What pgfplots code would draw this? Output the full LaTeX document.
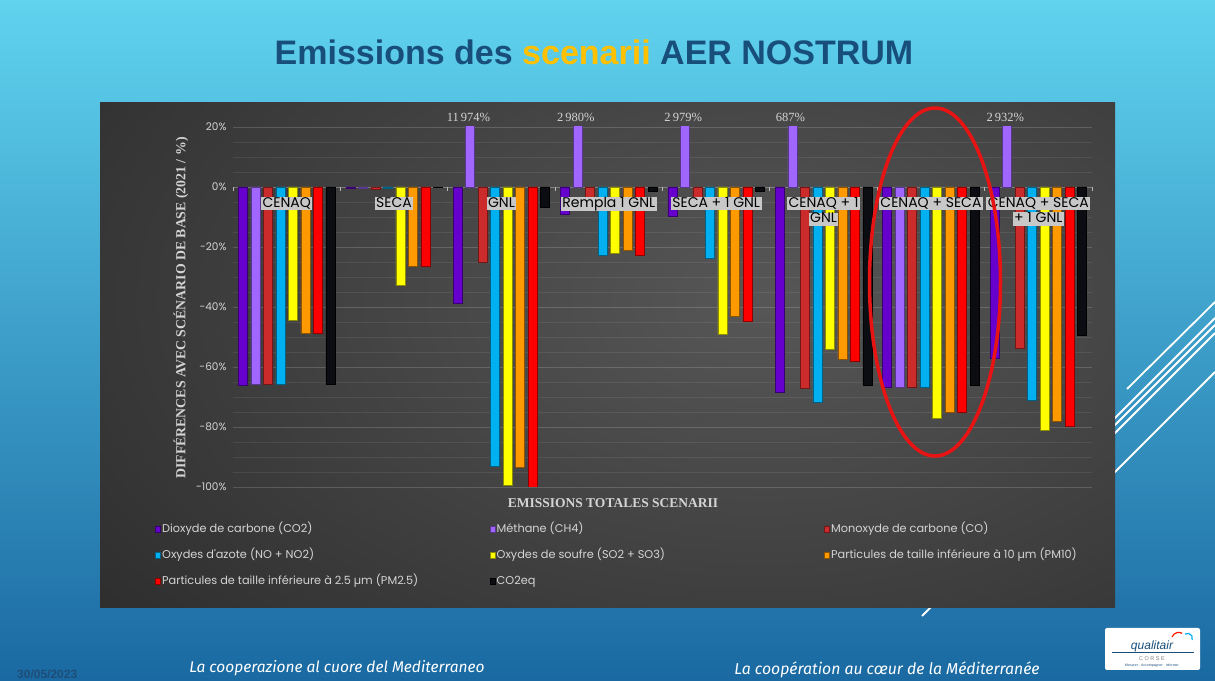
\documentclass[border=0pt]{standalone}
\usepackage{pgfplots}
\usepackage{pgfplotstable}
\pgfplotsset{compat=1.18}
\usepackage{fontspec}
\setmainfont{Liberation Sans}
\newfontfamily\gothic{Poppins}
\newfontfamily\tnr{Liberation Serif}
\newfontfamily\fira{Fira Sans}
\definecolor{cco2}{HTML}{6600CC}
\definecolor{cch4}{HTML}{A066FF}
\definecolor{cco}{HTML}{CC2B2B}
\definecolor{cnox}{HTML}{00B0F0}
\definecolor{csox}{HTML}{FFFF00}
\definecolor{cpm10}{HTML}{FF9900}
\definecolor{cpm25}{HTML}{FF0000}
\definecolor{cco2eq}{HTML}{0B0D12}
\definecolor{bgtop}{HTML}{60D3EF}
\definecolor{bgbot}{HTML}{1A69A2}
\definecolor{navy}{HTML}{184E7A}
\definecolor{gold}{HTML}{FFC000}
\definecolor{lbl}{HTML}{C8C8C8}
\definecolor{txt}{HTML}{D4D4D4}
\definecolor{redell}{HTML}{E81414}
\definecolor{datec}{HTML}{1D4E78}

\pgfplotstableread{
g co2 ch4 co nox sox pm10 pm25 co2eq
0 -66.0 -65.8 -65.8 -65.6 -44.3 -48.8 -48.8 -65.8
1 -0.4 -0.5 -0.8 -0.5 -32.8 -26.3 -26.3 -0.2
2 -38.6 11974 -25.0 -93.0 -99.3 -93.3 -100.0 -6.6
3 -9.1 2980 -4.0 -22.8 -22.1 -21.0 -22.6 -1.5
4 -9.9 2979 -4.0 -23.6 -49.2 -43.0 -44.7 -1.5
5 -68.3 687 -67.2 -71.6 -54.1 -57.4 -58.0 -66.0
6 -66.6 -66.6 -66.6 -66.6 -77.2 -75.2 -75.2 -66.1
7 -57.2 2932 -53.9 -71.0 -81.1 -78.2 -79.9 -49.3
}\datatable

\newcommand\cb[1]{{\setlength{\fboxsep}{0pt}\colorbox{lbl}{\hspace{1.5bp}\rule[-3bp]{0pt}{12.5bp}#1\hspace{1.5bp}}}}
\newcommand\lgt[1]{\makebox[326bp][l]{#1}}

\begin{document}
\begin{tikzpicture}[x=1bp,y=1bp]
\useasboundingbox (0,0) rectangle (1215,681);
\clip (0,0) rectangle (1215,681);
% slide background
\shade[top color=bgtop, bottom color=bgbot] (0,0) rectangle (1215,681);
% decorative lines
\begin{scope}[white, line width=1.8bp]
\draw (1215,379) -- (1127,292);
\draw (1215,363) -- (1100,248);
\draw (1215,356) -- (1100,241);
\draw (1215,348) -- (1100,233);
\draw (1215,309) -- (1100,194);
\draw (1010,153) -- (922,65);
\end{scope}
% chart panel
\begin{scope}
\clip (100,73) rectangle (1115,578);
\fill[black!85] (100,73) rectangle (1115,578);
\shade[inner color=black!66, outer color=black!85] (-240,-220) rectangle (1760,980);
\end{scope}
% title
\node[font=\bfseries\fontsize{34bp}{40bp}\selectfont, text=navy] at (594,629)
  {Emissions des \textcolor{gold}{scenarii} AER NOSTRUM};

\begin{axis}[
  at={(233bp,194bp)}, anchor=south west,
  scale only axis, width=859bp, height=360bp,
  xmin=-0.5, xmax=7.5, ymin=-100, ymax=20,
  restrict y to domain*=-120:40,
  clip mode=individual,
  axis line style={draw=none},
  xtick=\empty,
  ytick={-100,-80,...,20},
  minor y tick num=3,
  ymajorgrids, yminorgrids,
  major grid style={draw=white, opacity=0.16, line width=0.8bp},
  minor grid style={draw=white, opacity=0.08, line width=0.8bp},
  ytick style={draw=none},
  /pgf/number format/assume math mode=true,
  yticklabel={\pgfmathprintnumber{\tick}\%},
  yticklabel style={font=\gothic\fontsize{10.5bp}{12bp}\selectfont, text=txt, xshift=-3bp},
  extra y ticks={0}, extra y tick labels={},
  extra y tick style={grid style={draw=white!72!black, opacity=1, line width=1.3bp}},
  ybar, bar width=9bp,
  legend columns=3,
  legend style={at={(-0.0908,-0.1034)}, anchor=north west, draw=none, fill=none,
    inner sep=0pt, row sep=15.5bp, text=txt,
    font=\gothic\fontsize{11.3bp}{12bp}\selectfont,
    nodes={inner xsep=1.5bp, inner ysep=0pt, text height=8bp, text depth=2.5bp},
    /tikz/every even column/.append style={column sep=0pt}},
  legend image code/.code={\fill[#1] (0bp,-3bp) rectangle (5bp,3bp);},
]
\addplot[fill=cco2, draw=cco2!55!black, line width=0.5bp, bar shift=-43.75bp] table[x=g,y=co2]{\datatable};
\addplot[fill=cch4, draw=cch4!55!black, line width=0.5bp, bar shift=-31.25bp] table[x=g,y=ch4]{\datatable};
\addplot[fill=cco, draw=cco!55!black, line width=0.5bp, bar shift=-18.75bp] table[x=g,y=co]{\datatable};
\addplot[fill=cnox, draw=cnox!55!black, line width=0.5bp, bar shift=-6.25bp] table[x=g,y=nox]{\datatable};
\addplot[fill=csox, draw=csox!55!black, line width=0.5bp, bar shift=6.25bp] table[x=g,y=sox]{\datatable};
\addplot[fill=cpm10, draw=cpm10!55!black, line width=0.5bp, bar shift=18.75bp] table[x=g,y=pm10]{\datatable};
\addplot[fill=cpm25, draw=cpm25!55!black, line width=0.5bp, bar shift=31.25bp] table[x=g,y=pm25]{\datatable};
\addplot[fill=cco2eq, draw=black, line width=0.5bp, bar shift=43.75bp] table[x=g,y=co2eq]{\datatable};
\addlegendentry{\lgt{Dioxyde de carbone (CO2)}}
\addlegendentry{\lgt{Méthane (CH4)}}
\addlegendentry{\lgt{Monoxyde de carbone (CO)}}
\addlegendentry{\lgt{Oxydes d'azote (NO + NO2)}}
\addlegendentry{\lgt{Oxydes de soufre (SO2 + SO3)}}
\addlegendentry{\lgt{Particules de taille inférieure à 10 µm (PM10)}}
\addlegendentry{\lgt{Particules de taille inférieure à 2.5 µm (PM2.5)}}
\addlegendentry{\lgt{CO2eq}}
% group boundary ticks on the zero line
\pgfplotsinvokeforeach{-0.5,0.5,1.5,2.5,3.5,4.5,5.5,6.5,7.5}{
  \draw[white!72!black, line width=1bp] (axis cs:#1,0) -- ([yshift=-4bp]axis cs:#1,0);
}
% category labels
\tikzset{catl/.style={anchor=north, yshift=-10bp, inner sep=0pt, align=center,
  font=\gothic\fontsize{14bp}{15.5bp}\selectfont, text=black}}
\node[catl] at (axis cs:0,0) {\cb{CENAQ}};
\node[catl] at (axis cs:1,0) {\cb{SECA}};
\node[catl] at (axis cs:2,0) {\cb{GNL}};
\node[catl] at (axis cs:3,0) {\cb{Rempla 1 GNL}};
\node[catl] at (axis cs:4,0) {\cb{SECA + 1 GNL}};
\node[catl] at (axis cs:5,0) {\cb{CENAQ + 1}\\\cb{GNL}};
\node[catl] at (axis cs:6,0) {\cb{CENAQ + SECA}};
\node[catl] at (axis cs:7,0) {\cb{CENAQ + SECA}\\\cb{+ 1 GNL}};
% values beyond the axis
\tikzset{vl/.style={anchor=base, yshift=5bp, xshift=-33bp,
  font=\tnr\fontsize{12.5bp}{14bp}\selectfont, text=txt}}
\node[vl] at (axis cs:2,20) {11\,974\%};
\node[vl] at (axis cs:3,20) {2\,980\%};
\node[vl] at (axis cs:4,20) {2\,979\%};
\node[vl] at (axis cs:5,20) {687\%};
\node[vl] at (axis cs:7,20) {2\,932\%};
\end{axis}
% axis titles
\node[rotate=90, font=\tnr\bfseries\fontsize{13.8bp}{15bp}\selectfont, text=txt]
  at (181,373) {DIFFÉRENCES AVEC SCÉNARIO DE BASE (2021 / \%)};
\node[font=\tnr\bfseries\fontsize{13.5bp}{15bp}\selectfont, text=txt]
  at (613,178) {EMISSIONS TOTALES SCENARII};
% highlight ellipse
\draw[redell, line width=3.5bp] (935,399) ellipse [x radius=65.5, y radius=174];
% footer
\node[anchor=base west, font=\bfseries\fontsize{12bp}{14bp}\selectfont, text=datec, inner sep=0pt]
  at (17,2.5) {30/05/2023};
\node[font=\fira\itshape\fontsize{15.5bp}{17bp}\selectfont, text=white] at (337,13)
  {La cooperazione al cuore del Mediterraneo};
\node[font=\fira\itshape\fontsize{15.8bp}{17bp}\selectfont, text=white] at (887,11)
  {La coopération au cœur de la Méditerranée};
% logo
\fill[white, rounded corners=2bp] (1105,11) rectangle (1200,53);
\draw[navy, line width=0.8bp] (1112,29) -- (1194,29);
\node[font=\itshape\fontsize{12bp}{13bp}\selectfont, text=navy, anchor=base] at (1152,31) {qualitair};
\draw[line width=1.2bp, red!80!orange] (1172,44) arc[start angle=160, end angle=60, radius=7];
\draw[line width=1.2bp, cnox] (1185,47) arc[start angle=120, end angle=-20, radius=5];
\node[font=\fontsize{5.5bp}{6bp}\selectfont, text=gray] at (1152,22) {C O R S E};
\node[font=\fontsize{3.5bp}{4bp}\selectfont, text=navy] at (1152,15) {Mesurer · Accompagner · Informer};
\end{tikzpicture}
\end{document}
